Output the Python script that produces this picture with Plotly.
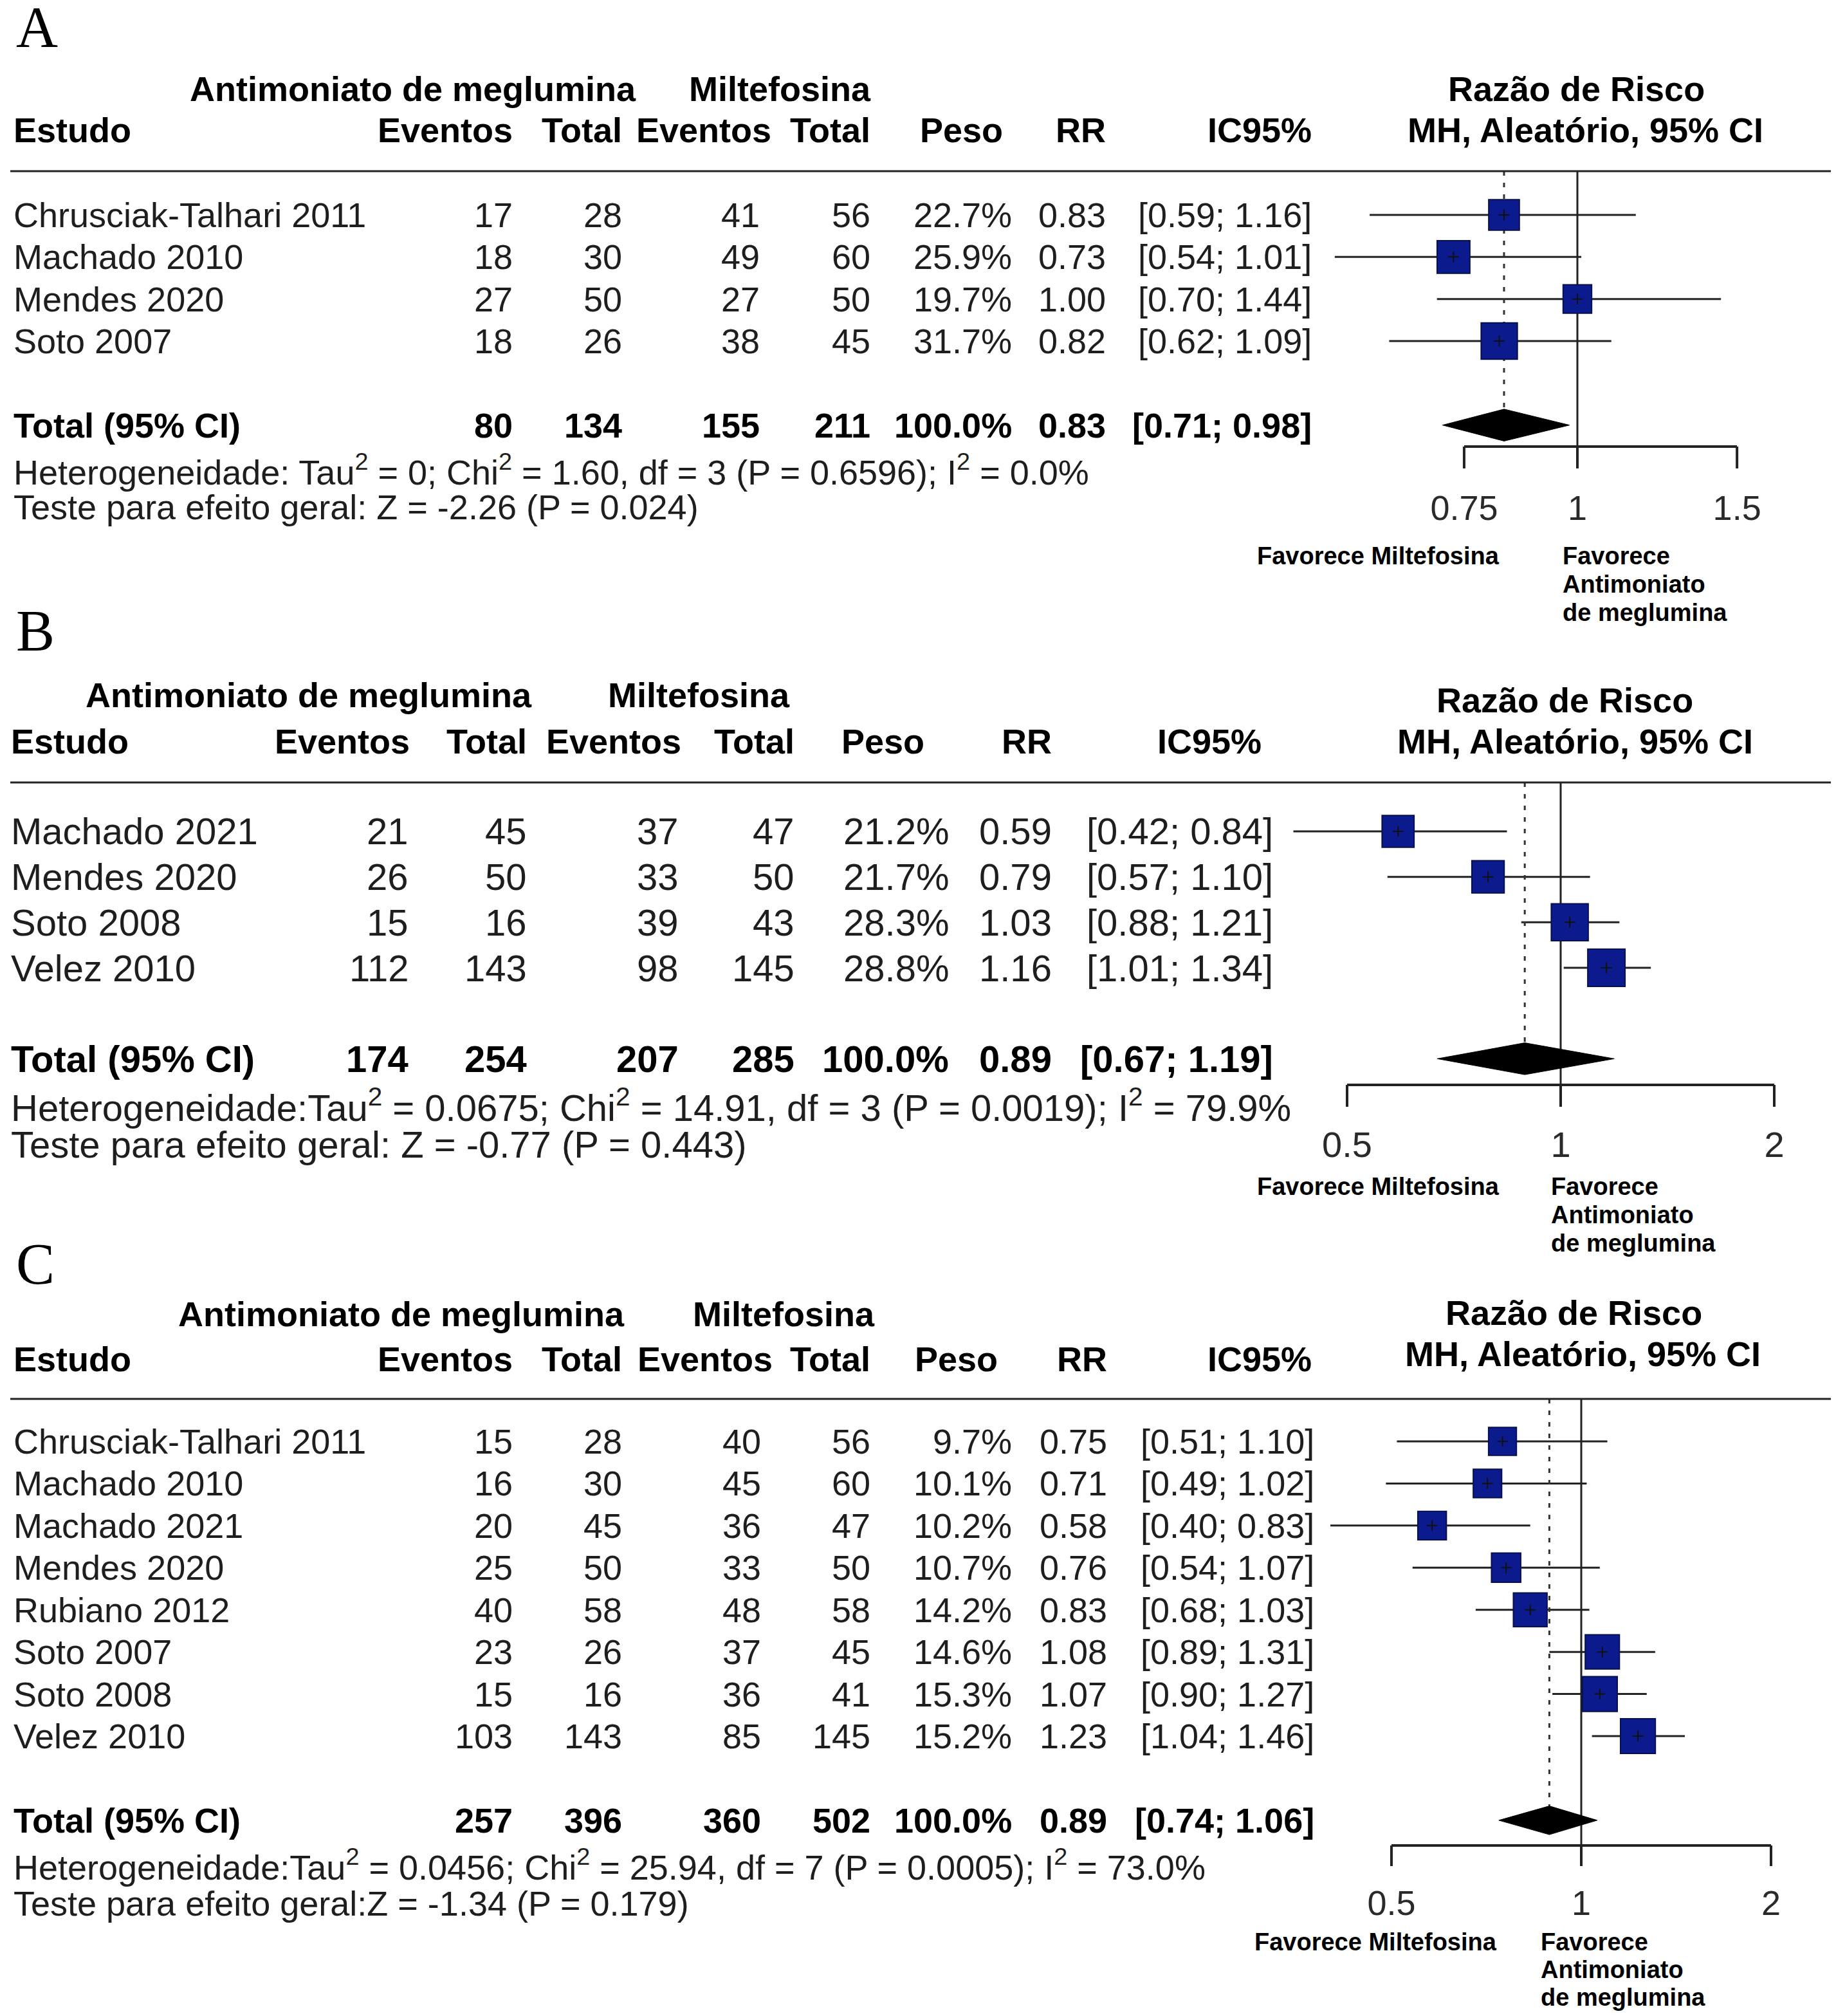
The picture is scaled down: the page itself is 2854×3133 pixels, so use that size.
import math
import plotly.graph_objects as go

W, H = 2854, 3133
OFF = 8  # default page margin of the html body
W_FIG, H_FIG = W - 2 * OFF, H - OFF

# ---------------- data ----------------
COL_HEADERS = ["Eventos", "Total", "Eventos", "Total", "Peso", "RR", "IC95%"]
GROUP_AM = "Antimoniato de meglumina"
GROUP_MI = "Miltefosina"
PLOT_TITLE_1 = "Razão de Risco"
PLOT_TITLE_2 = "MH, Aleatório, 95% CI"
FAV_LEFT = "Favorece Miltefosina"
FAV_RIGHT = ["Favorece", "Antimoniato", "de meglumina"]

# Panel A
A_STUDIES = ["Chrusciak-Talhari 2011", "Machado 2010", "Mendes 2020", "Soto 2007"]
A_EV_AM = [17, 18, 27, 18]
A_N_AM = [28, 30, 50, 26]
A_EV_MI = [41, 49, 27, 38]
A_N_MI = [56, 60, 50, 45]
A_WEIGHT = [22.7, 25.9, 19.7, 31.7]
A_RR = [0.83, 0.73, 1.00, 0.82]
A_LO = [0.59, 0.54, 0.70, 0.62]
A_HI = [1.16, 1.01, 1.44, 1.09]
A_TOTALS = [80, 134, 155, 211]
A_POOLED = [0.83, 0.71, 0.98]
A_HET = "Heterogeneidade: Tau<sup>2</sup> = 0; Chi<sup>2</sup> = 1.60, df = 3 (P = 0.6596); I<sup>2</sup> = 0.0%"
A_TEST = "Teste para efeito geral: Z = -2.26 (P = 0.024)"
A_TICKS = [0.75, 1, 1.5]
A_TICK_LABELS = ["0.75", "1", "1.5"]

# Panel B
B_STUDIES = ["Machado 2021", "Mendes 2020", "Soto 2008", "Velez 2010"]
B_EV_AM = [21, 26, 15, 112]
B_N_AM = [45, 50, 16, 143]
B_EV_MI = [37, 33, 39, 98]
B_N_MI = [47, 50, 43, 145]
B_WEIGHT = [21.2, 21.7, 28.3, 28.8]
B_RR = [0.59, 0.79, 1.03, 1.16]
B_LO = [0.42, 0.57, 0.88, 1.01]
B_HI = [0.84, 1.10, 1.21, 1.34]
B_TOTALS = [174, 254, 207, 285]
B_POOLED = [0.89, 0.67, 1.19]
B_HET = "Heterogeneidade:Tau<sup>2</sup> = 0.0675; Chi<sup>2</sup> = 14.91, df = 3 (P = 0.0019); I<sup>2</sup> = 79.9%"
B_TEST = "Teste para efeito geral: Z = -0.77 (P = 0.443)"
B_TICKS = [0.5, 1, 2]
B_TICK_LABELS = ["0.5", "1", "2"]

# Panel C
C_STUDIES = ["Chrusciak-Talhari 2011", "Machado 2010", "Machado 2021", "Mendes 2020",
             "Rubiano 2012", "Soto 2007", "Soto 2008", "Velez 2010"]
C_EV_AM = [15, 16, 20, 25, 40, 23, 15, 103]
C_N_AM = [28, 30, 45, 50, 58, 26, 16, 143]
C_EV_MI = [40, 45, 36, 33, 48, 37, 36, 85]
C_N_MI = [56, 60, 47, 50, 58, 45, 41, 145]
C_WEIGHT = [9.7, 10.1, 10.2, 10.7, 14.2, 14.6, 15.3, 15.2]
C_RR = [0.75, 0.71, 0.58, 0.76, 0.83, 1.08, 1.07, 1.23]
C_LO = [0.51, 0.49, 0.40, 0.54, 0.68, 0.89, 0.90, 1.04]
C_HI = [1.10, 1.02, 0.83, 1.07, 1.03, 1.31, 1.27, 1.46]
C_TOTALS = [257, 396, 360, 502]
C_POOLED = [0.89, 0.74, 1.06]
C_HET = "Heterogeneidade:Tau<sup>2</sup> = 0.0456; Chi<sup>2</sup> = 25.94, df = 7 (P = 0.0005); I<sup>2</sup> = 73.0%"
C_TEST = "Teste para efeito geral:Z = -1.34 (P = 0.179)"
C_TICKS = [0.5, 1, 2]
C_TICK_LABELS = ["0.5", "1", "2"]

TOTAL_LABEL = "Total (95% CI)"
TOTAL_WEIGHT = 100.0
STUDY_HEADER = "Estudo"

# ---------------- styles / layout ----------------
FONT = "Liberation Sans, Arial, Helvetica, sans-serif"
SERIF = "Liberation Serif, Times New Roman, Times, serif"
TXT = "#1e1e1e"
BLK = "#000000"
LINE = "#222222"
SQ_FILL = "#0b1a8c"
SQ_EDGE = "#08104e"

panels = [
    dict(label="A", studies=A_STUDIES, ev_am=A_EV_AM, n_am=A_N_AM, ev_mi=A_EV_MI, n_mi=A_N_MI,
         w=A_WEIGHT, rr=A_RR, lo=A_LO, hi=A_HI, totals=A_TOTALS, pooled=A_POOLED,
         het=A_HET, test=A_TEST, ticks=A_TICKS, ticklabels=A_TICK_LABELS,
         L=dict(top=0, bottom=950, label_y=42, h1_y=138, razao_y=138, h2_y=202, mh_y=202,
                h1_x=[642, 1212], razao_x=2450, mh_x=2464,
                head_right=[798, 968, 1200, 1354, 1560, 1720, 2040],
                val_right=[798, 968, 1182, 1354, 1574, 1720, 2040],
                study_left=20, rule_y=266, row0=334, dy=65.33, het_y=730, test_y=788,
                x1=2452, ppl=612, axis_y=694, tick_end=728, ticklab_y=794,
                fav_y=864, fav_right=2332, fav2_left=2428, fav_dy=44,
                body=54, head=54, ticksize=54, sq=10.0, dh=0.38)),
    dict(label="B", studies=B_STUDIES, ev_am=B_EV_AM, n_am=B_N_AM, ev_mi=B_EV_MI, n_mi=B_N_MI,
         w=B_WEIGHT, rr=B_RR, lo=B_LO, hi=B_HI, totals=B_TOTALS, pooled=B_POOLED,
         het=B_HET, test=B_TEST, ticks=B_TICKS, ticklabels=B_TICK_LABELS,
         L=dict(top=950, bottom=1930, label_y=980, h1_y=1080, razao_y=1088, h2_y=1152, mh_y=1152,
                h1_x=[480, 1086], razao_x=2432, mh_x=2448,
                head_right=[638, 820, 1060, 1236, 1438, 1636, 1962],
                val_right=[636, 820, 1056, 1236, 1476, 1636, 1980],
                study_left=16, rule_y=1216, row0=1292, dy=70.67, het_y=1718, test_y=1779,
                x1=2426, ppl=479, axis_y=1686, tick_end=1720, ticklab_y=1784,
                fav_y=1844, fav_right=2332, fav2_left=2410, fav_dy=44,
                body=58, head=54, ticksize=56, sq=10.8, dh=0.35)),
    dict(label="C", studies=C_STUDIES, ev_am=C_EV_AM, n_am=C_N_AM, ev_mi=C_EV_MI, n_mi=C_N_MI,
         w=C_WEIGHT, rr=C_RR, lo=C_LO, hi=C_HI, totals=C_TOTALS, pooled=C_POOLED,
         het=C_HET, test=C_TEST, ticks=C_TICKS, ticklabels=C_TICK_LABELS,
         L=dict(top=1930, bottom=3133, label_y=1964, h1_y=2042, razao_y=2040, h2_y=2112, mh_y=2104,
                h1_x=[624, 1218], razao_x=2446, mh_x=2460,
                head_right=[798, 968, 1202, 1354, 1552, 1722, 2040],
                val_right=[798, 968, 1184, 1354, 1574, 1722, 2044],
                study_left=20, rule_y=2174, row0=2240, dy=65.43, het_y=2898, test_y=2958,
                x1=2458, ppl=425.6, axis_y=2868, tick_end=2900, ticklab_y=2962,
                fav_y=3018, fav_right=2328, fav2_left=2394, fav_dy=43,
                body=54, head=54, ticksize=54, sq=13.9, dh=0.34)),
]

fig = go.Figure()
annotations = []
shapes = []


def paper_x(px):
    return (px - OFF) / W_FIG


def paper_y(py):
    return 1 - (py - OFF) / H_FIG


def add_text(text, x_px, y, yref, xanchor, size, bold=False, family=FONT, color=TXT):
    annotations.append(dict(
        text=f"<b>{text}</b>" if bold else text,
        x=paper_x(x_px), xref="paper", y=y, yref=yref,
        xanchor=xanchor, yanchor="middle", showarrow=False, borderpad=0,
        font=dict(family=family, size=size, color=color)))


for p, P in enumerate(panels):
    L = P["L"]
    sfx = "" if p == 0 else str(p + 1)
    xa, ya = "x" + sfx, "y" + sfx
    row = lambda py, L=L: (py - L["row0"]) / L["dy"]
    n = len(P["studies"])
    total_row = n + 1

    # axes (page pixels -> data via domain/range)
    ln10 = math.log(10)
    top = max(L["top"], OFF)
    bottom = min(L["bottom"], OFF + H_FIG)
    fig.layout["xaxis" + sfx] = dict(
        type="log", domain=[0, 1], anchor=ya, visible=False, fixedrange=True,
        range=[(OFF - L["x1"]) / L["ppl"] / ln10, (OFF + W_FIG - L["x1"]) / L["ppl"] / ln10])
    fig.layout["yaxis" + sfx] = dict(
        domain=[paper_y(bottom), paper_y(top)], anchor=xa, visible=False, fixedrange=True,
        range=[row(bottom), row(top)])

    # panel label
    add_text(P["label"], 24, paper_y(L["label_y"]), "paper", "left", 90, family=SERIF, color=BLK)

    # headers
    add_text(GROUP_AM, L["h1_x"][0], paper_y(L["h1_y"]), "paper", "center", L["head"], bold=True, color=BLK)
    add_text(GROUP_MI, L["h1_x"][1], paper_y(L["h1_y"]), "paper", "center", L["head"], bold=True, color=BLK)
    add_text(PLOT_TITLE_1, L["razao_x"], paper_y(L["razao_y"]), "paper", "center", L["head"], bold=True, color=BLK)
    add_text(STUDY_HEADER, L["study_left"], paper_y(L["h2_y"]), "paper", "left", L["head"], bold=True, color=BLK)
    for hx, ht in zip(L["head_right"], COL_HEADERS):
        add_text(ht, hx, paper_y(L["h2_y"]), "paper", "right", L["head"], bold=True, color=BLK)
    add_text(PLOT_TITLE_2, L["mh_x"], paper_y(L["mh_y"]), "paper", "center", L["head"], bold=True, color=BLK)

    # header rule
    shapes.append(dict(type="line", xref="paper", yref="paper", x0=paper_x(16), x1=paper_x(2846),
                       y0=paper_y(L["rule_y"]), y1=paper_y(L["rule_y"]),
                       line=dict(color=LINE, width=3)))

    # study rows
    vr = L["val_right"]
    for i in range(n):
        add_text(P["studies"][i], L["study_left"], i, ya, "left", L["body"])
        cells = [str(P["ev_am"][i]), str(P["n_am"][i]), str(P["ev_mi"][i]), str(P["n_mi"][i]),
                 f"{P['w'][i]:.1f}%", f"{P['rr'][i]:.2f}", f"[{P['lo'][i]:.2f}; {P['hi'][i]:.2f}]"]
        for cx, ct in zip(vr, cells):
            add_text(ct, cx, i, ya, "right", L["body"])

    # total row
    add_text(TOTAL_LABEL, L["study_left"], total_row, ya, "left", L["body"], bold=True, color=BLK)
    pr, plo, phi = P["pooled"]
    tcells = [str(v) for v in P["totals"]] + [f"{TOTAL_WEIGHT:.1f}%", f"{pr:.2f}", f"[{plo:.2f}; {phi:.2f}]"]
    for cx, ct in zip(vr, tcells):
        add_text(ct, cx, total_row, ya, "right", L["body"], bold=True, color=BLK)

    add_text(P["het"], L["study_left"], row(L["het_y"]), ya, "left", L["body"])
    add_text(P["test"], L["study_left"], row(L["test_y"]), ya, "left", L["body"])

    # favour labels
    add_text(FAV_LEFT, L["fav_right"], paper_y(L["fav_y"]), "paper", "right", 38, bold=True, color=BLK)
    for k, t in enumerate(FAV_RIGHT):
        add_text(t, L["fav2_left"], paper_y(L["fav_y"] + k * L["fav_dy"]), "paper", "left", 38, bold=True, color=BLK)

    # ---- forest marks ----
    rule_r = row(L["rule_y"])
    axis_r = row(L["axis_y"])
    tick_r = row(L["tick_end"])
    lab_r = row(L["ticklab_y"])

    # CI lines
    cx, cy = [], []
    for i in range(n):
        cx += [P["lo"][i], P["hi"][i], None]
        cy += [i, i, None]
    fig.add_trace(go.Scatter(x=cx, y=cy, mode="lines", xaxis=xa, yaxis=ya,
                             line=dict(color=LINE, width=3), hoverinfo="skip", showlegend=False))
    # no-effect line
    fig.add_trace(go.Scatter(x=[1, 1], y=[rule_r, axis_r], mode="lines", xaxis=xa, yaxis=ya,
                             line=dict(color=LINE, width=3), hoverinfo="skip", showlegend=False))
    # pooled dotted line
    fig.add_trace(go.Scatter(x=[pr, pr], y=[rule_r, total_row - L["dh"]], mode="lines", xaxis=xa, yaxis=ya,
                             line=dict(color="#333333", width=3, dash="7px,11px"),
                             hoverinfo="skip", showlegend=False))
    # squares (area proportional to weight)
    fig.add_trace(go.Scatter(x=P["rr"], y=list(range(n)), mode="markers", xaxis=xa, yaxis=ya,
                             marker=dict(symbol="square", size=[L["sq"] * math.sqrt(v) for v in P["w"]],
                                         color=SQ_FILL, opacity=1, line=dict(color=SQ_EDGE, width=2)),
                             cliponaxis=False, hoverinfo="skip", showlegend=False))
    fig.add_trace(go.Scatter(x=P["rr"], y=list(range(n)), mode="markers", xaxis=xa, yaxis=ya,
                             marker=dict(symbol="cross-thin", size=12, opacity=1,
                                         line=dict(color="#111111", width=2)),
                             hoverinfo="skip", showlegend=False))
    # diamond
    fig.add_trace(go.Scatter(x=[plo, pr, phi, pr, plo],
                             y=[total_row, total_row - L["dh"], total_row, total_row + L["dh"], total_row],
                             mode="lines", fill="toself", fillcolor=BLK, xaxis=xa, yaxis=ya,
                             line=dict(color=BLK, width=1), hoverinfo="skip", showlegend=False))
    # axis line + ticks + tick labels
    fig.add_trace(go.Scatter(x=[P["ticks"][0], P["ticks"][-1]], y=[axis_r, axis_r], mode="lines",
                             xaxis=xa, yaxis=ya, line=dict(color=LINE, width=4),
                             hoverinfo="skip", showlegend=False))
    tx, ty = [], []
    for t in P["ticks"]:
        tx += [t, t, None]
        ty += [axis_r, tick_r, None]
    fig.add_trace(go.Scatter(x=tx, y=ty, mode="lines", xaxis=xa, yaxis=ya,
                             line=dict(color=LINE, width=4), hoverinfo="skip", showlegend=False))
    fig.add_trace(go.Scatter(x=P["ticks"], y=[lab_r] * len(P["ticks"]), mode="text",
                             text=P["ticklabels"], textposition="middle center",
                             textfont=dict(family=FONT, size=L["ticksize"], color="#2a2a2a"),
                             xaxis=xa, yaxis=ya, cliponaxis=False, hoverinfo="skip", showlegend=False))

fig.update_layout(
    width=W_FIG, height=H_FIG, margin=dict(l=0, r=0, t=0, b=0),
    paper_bgcolor="white", plot_bgcolor="white",
    annotations=annotations, shapes=shapes, showlegend=False,
)

fig.write_html("out.html", config={"displayModeBar": False})
